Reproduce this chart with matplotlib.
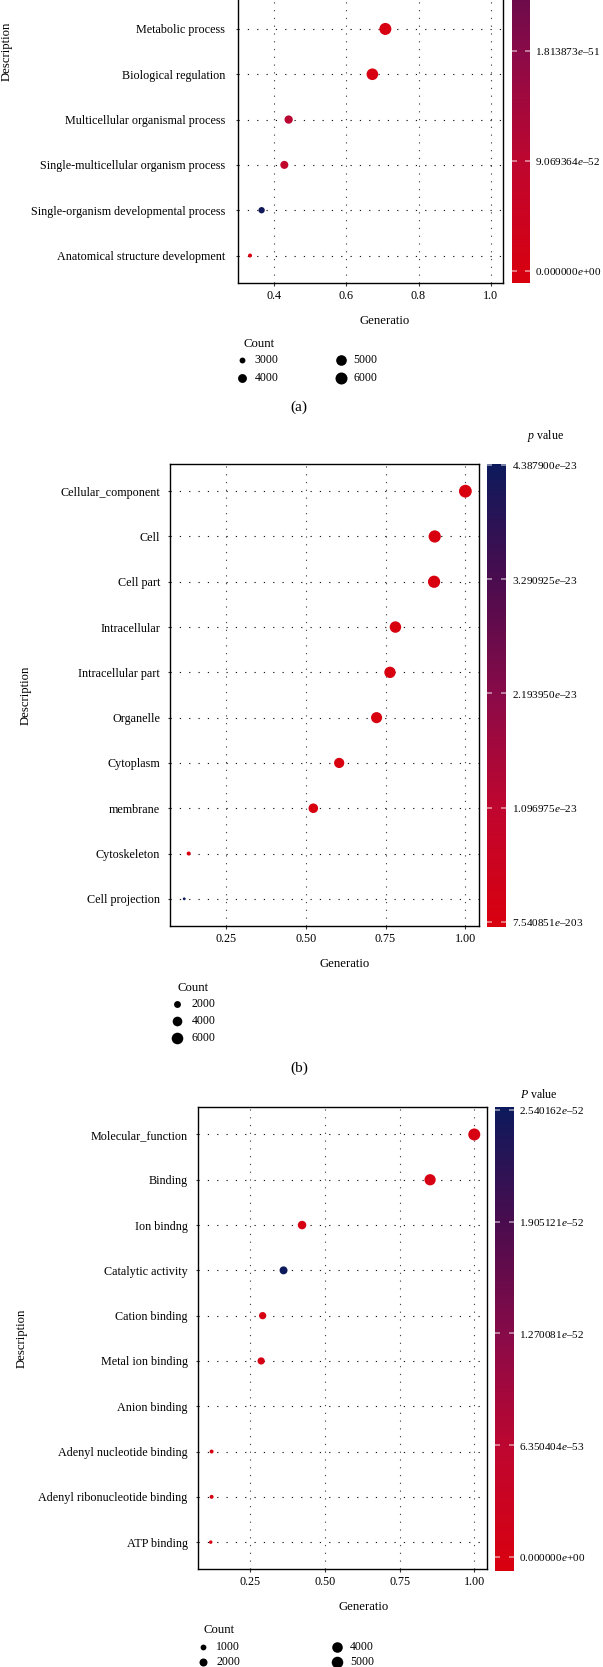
import numpy as np
import matplotlib
matplotlib.use("Agg")
import matplotlib.pyplot as plt
from matplotlib.colors import LinearSegmentedColormap, Normalize
from matplotlib.cm import ScalarMappable

plt.rcParams["font.family"] = ["Liberation Serif", "DejaVu Serif"]
plt.rcParams["mathtext.fontset"] = "custom"
plt.rcParams["mathtext.rm"] = "Liberation Serif"
plt.rcParams["mathtext.it"] = "Liberation Serif:italic"

W, H, DPI = 603, 1667, 100

# (a) biological process -- the top four rows of this panel are cropped away
A_TERMS = ["Metabolic process", "Biological regulation",
           "Multicellular organismal process",
           "Single-multicellular organism process",
           "Single-organism developmental process",
           "Anatomical structure development"]
A_RATIO = [0.708, 0.672, 0.440, 0.428, 0.365, 0.333]
A_COUNT = [6020, 5710, 3740, 3640, 3100, 2830]
A_PVAL = [2.0e-60, 5.0e-58, 9.8e-52, 8.0e-52, 3.627746e-51, 0.0]
A_XTICKS = [0.4, 0.6, 0.8, 1.0]
A_CBAR_TICKS = [0.0, 9.069364e-52, 1.813873e-51, 2.720810e-51, 3.627746e-51]
A_COUNT_BREAKS = [3000, 4000, 5000, 6000]

# (b) cellular component
B_TERMS = ["Cellular_component", "Cell", "Cell part", "Intracellular",
           "Intracellular part", "Organelle", "Cytoplasm", "membrane",
           "Cytoskeleton", "Cell projection"]
B_RATIO = [1.0, 0.904, 0.902, 0.781, 0.764, 0.722, 0.605, 0.524, 0.134, 0.120]
B_COUNT = [7500, 6780, 6765, 5860, 5730, 5415, 4540, 3930, 1005, 900]
B_PVAL = [7.540851e-203, 1e-180, 1e-175, 1e-150, 1e-140, 1e-120, 1e-90,
          1e-60, 1e-30, 4.3879e-23]
B_XTICKS = [0.25, 0.50, 0.75, 1.00]
B_CBAR_TICKS = [7.540851e-203, 1.096975e-23, 2.193950e-23, 3.290925e-23,
                4.387900e-23]
B_COUNT_BREAKS = [2000, 4000, 6000]

# (c) molecular function ("Anion binding" has no point)
C_TERMS = ["Molecular_function", "Binding", "Ion bindng", "Catalytic activity",
           "Cation binding", "Metal ion binding", "Anion binding",
           "Adenyl nucleotide binding", "Adenyl ribonucleotide binding",
           "ATP binding"]
C_RATIO = [1.0, 0.852, 0.423, 0.361, 0.291, 0.286, np.nan, 0.120, 0.120, 0.117]
C_COUNT = [5500, 4690, 2325, 1985, 1600, 1575, np.nan, 660, 660, 645]
C_PVAL = [0.0, 0.0, 0.0, 2.540162e-52, 0.0, 0.0, np.nan, 0.0, 0.0, 0.0]
C_XTICKS = [0.25, 0.50, 0.75, 1.00]
C_CBAR_TICKS = [0.0, 6.350404e-53, 1.270081e-52, 1.905121e-52, 2.540162e-52]
C_COUNT_BREAKS = [1000, 2000, 3000, 4000, 5000]

CMAP = LinearSegmentedColormap.from_list("red_navy", [
    (0.00, "#d9000e"), (0.25, "#c0062e"), (0.50, "#8a0a48"),
    (0.75, "#4a0c4e"), (1.00, "#0c1a5c")])


def fig_box(l, t, r, b):
    return [l / W, 1 - b / H, (r - l) / W, (b - t) / H]


def dot_area(count, lims):
    cmin, cmax, dmin, dmax = lims
    t = np.clip((np.asarray(count, float) - cmin) / (cmax - cmin), 0, None)
    d_px = dmin + (dmax - dmin) * np.sqrt(t)
    return (d_px * 72 / DPI) ** 2


def sci_label(v):
    mant, exp = f"{v:.6e}".split("e")
    return mant + r"$\mathit{e}$" + exp.replace("-", "\u2013")


fig = plt.figure(figsize=(W / DPI, H / DPI), dpi=DPI)
over = fig.add_axes([0, 0, 1, 1], zorder=5)
over.set_xlim(0, W)
over.set_ylim(H, 0)
over.axis("off")


def panel(terms, ratio, count, pval, xticks, xfmt, ax_px, xlim, ypad_px,
          size_lims, cb_px, cb_lim, cb_ticks, cb_title, cb_title_xy,
          breaks, leg, desc_xy, gen_xy, letter, letter_y):
    ax = fig.add_axes(fig_box(*ax_px))
    n = len(terms)
    y = np.arange(n)[::-1].astype(float)
    ratio = np.asarray(ratio, float)
    count = np.asarray(count, float)
    pval = np.asarray(pval, float)
    ok = ~np.isnan(ratio)
    norm = Normalize(*cb_lim)
    ax.scatter(ratio[ok], y[ok], s=dot_area(count[ok], size_lims),
               c=pval[ok], cmap=CMAP, norm=norm, linewidths=0, zorder=3)

    ax.set_xlim(*xlim)
    ax.set_ylim(-0.6, 9.6)
    ax.set_yticks(y)
    ax.set_yticklabels(terms)
    ax.set_xticks(xticks)
    ax.set_xticklabels([xfmt.format(v) for v in xticks])
    ax.set_axisbelow(True)
    ax.yaxis.grid(True, color="#151515", lw=0.8, linestyle=(0, (1.1, 7.3)))
    ax.xaxis.grid(True, color="#444444", lw=0.8, linestyle=(0, (1.1, 5.9)))
    ax.tick_params(length=1.8, width=0.8, color="#333333", labelsize=8.7)
    ax.tick_params(axis="y", pad=(ypad_px - 2.5) * 72 / DPI)
    ax.tick_params(axis="x", pad=3.2)
    for sp in ax.spines.values():
        sp.set_linewidth(1.0)
        sp.set_color("black")

    cax = fig.add_axes(fig_box(*cb_px))
    cb = fig.colorbar(ScalarMappable(norm=norm, cmap=CMAP), cax=cax)
    cb.outline.set_visible(False)
    cb.set_ticks(cb_ticks)
    cb.set_ticklabels([sci_label(v) for v in cb_ticks])
    cax.yaxis.set_ticks_position("both")
    cax.tick_params(direction="in", length=3.5, width=1.2,
                    color=(1, 1, 1, 0.55), labelsize=8.1, pad=4,
                    labelleft=False, labelright=True)
    if cb_title:
        over.text(*cb_title_xy, cb_title, ha="center", va="center", fontsize=8.6)

    # size legend
    over.text(leg["title"][0], leg["title"][1], "Count", ha="left",
              va="center", fontsize=9.2)
    nrow = leg["nrow"]
    for k, b in enumerate(breaks):
        cx = leg["cols"][k // nrow]
        cy = leg["rows"][k % nrow]
        over.scatter([cx], [cy], s=dot_area([b], size_lims), color="black",
                     linewidths=0)
        over.text(cx + leg["gap"], cy, str(b), ha="left", va="center",
                  fontsize=8.5)

    over.text(*desc_xy, "Description", rotation=90, ha="center", va="center",
              fontsize=9.2)
    over.text(*gen_xy, "Generatio", ha="center", va="center", fontsize=9.2)
    over.text(299, letter_y, letter, ha="center", va="center", fontsize=11)


panel(A_TERMS, A_RATIO, A_COUNT, A_PVAL, A_XTICKS, "{:.1f}",
      (238.5, -179.5, 503, 282.7), (0.301, 1.034), 13.5,
      (2830, 8500, 4.0, 14.7),
      (512, -180, 529.6, 283.3), (-1.04e-52, 3.716e-51), A_CBAR_TICKS,
      None, None, A_COUNT_BREAKS,
      dict(title=(244, 344), nrow=2, cols=[242.3, 341], rows=[360, 378], gap=12.5),
      (7, 51), (384.6, 321), "(a)", 407.5)

panel(B_TERMS, B_RATIO, B_COUNT, B_PVAL, B_XTICKS, "{:.2f}",
      (170.4, 464, 478.8, 926), (0.0767, 1.042), 10.5,
      (900, 7500, 2.8, 12.8),
      (486.7, 464, 506, 926.7), (-4.8e-25, 4.397e-23), B_CBAR_TICKS,
      r"$\mathit{p}$ value", (545.3, 436), B_COUNT_BREAKS,
      dict(title=(177.3, 987.7), nrow=3, cols=[176.7],
           rows=[1004.3, 1020.8, 1038.3], gap=15),
      (26, 695), (345, 964), "(b)", 1068.5)

panel(C_TERMS, C_RATIO, C_COUNT, C_PVAL, C_XTICKS, "{:.2f}",
      (197.7, 1107.3, 486.5, 1569.3), (0.0734, 1.041), 10,
      (645, 5500, 3.5, 12.0),
      (495.4, 1107, 513.8, 1570.7), (-7.8e-54, 2.557e-52), C_CBAR_TICKS,
      r"$\mathit{P}$ value", (538.5, 1094), C_COUNT_BREAKS,
      dict(title=(204, 1629.7), nrow=3, cols=[202.7, 336.7],
           rows=[1647, 1662.3, 1677.6], gap=13.5),
      (22, 1338), (363.5, 1607.3), "(c)", 1700)

fig.savefig("out.png", dpi=DPI)
